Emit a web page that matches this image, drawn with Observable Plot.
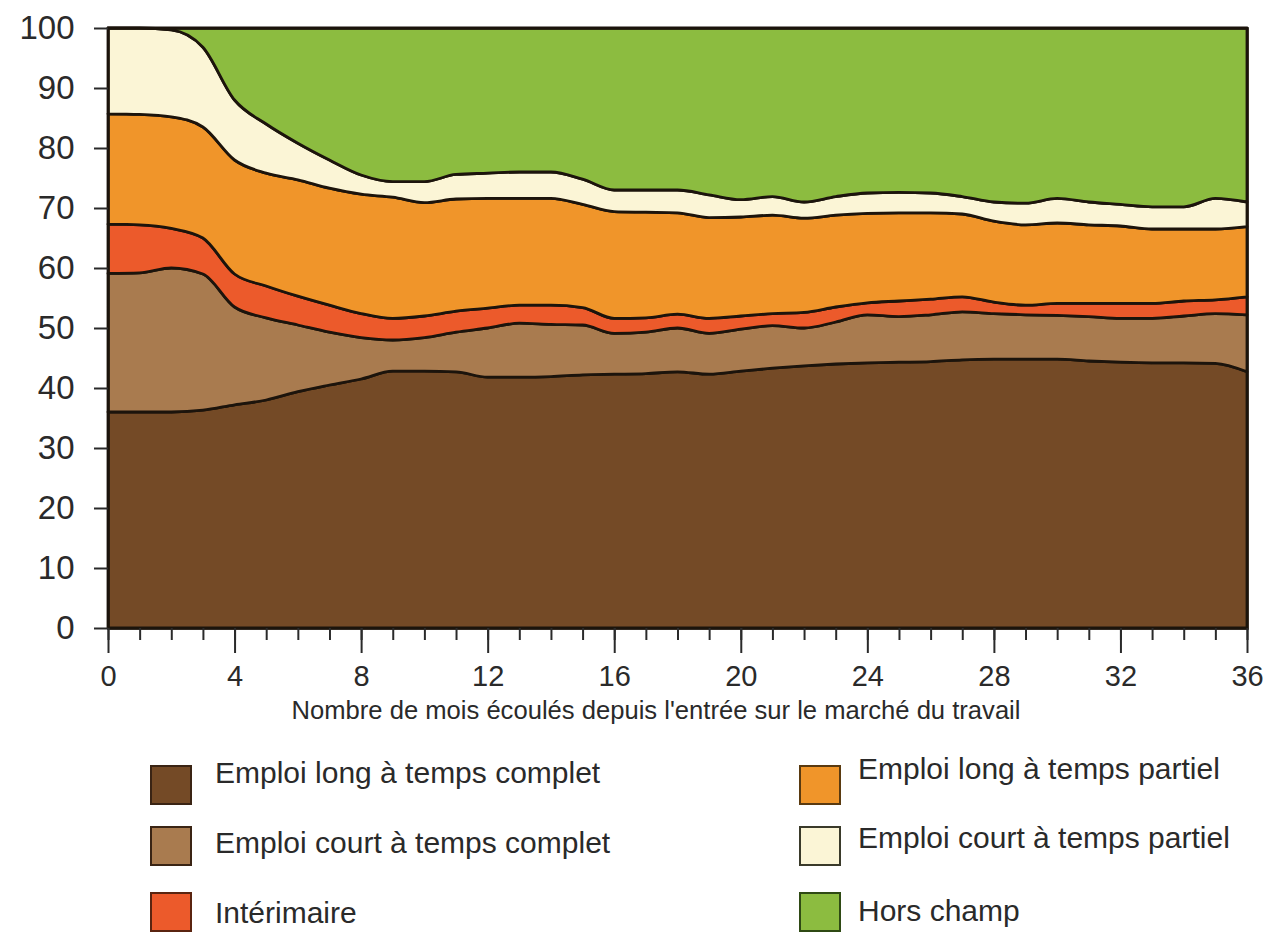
<!DOCTYPE html>
<html>
<head>
<meta charset="utf-8">
<script src="https://cdn.jsdelivr.net/npm/d3@7"></script>
<script src="https://cdn.jsdelivr.net/npm/@observablehq/plot@0.6"></script>
<style>
  html, body { margin: 0; padding: 0; background: #fff; }
  #wrap { position: relative; width: 1266px; height: 936px; font-family: "Liberation Sans", Arial, sans-serif; color: #2a2a2a; overflow: hidden; }
  #chart { position: absolute; left: 0; top: 0; }
  .sw { position: absolute; width: 42px; height: 40px; box-sizing: border-box; border: 2px solid #3a2a1a; }
  .lt { position: absolute; font-size: 30px; white-space: nowrap; line-height: 1; }
</style>
</head>
<body>
<div id="wrap">
  <div id="chart"></div>
  <div id="legend"></div>
</div>
<script>
// ---- data ----
const months = [0,1,2,3,4,5,6,7,8,9,10,11,12,13,14,15,16,17,18,19,20,21,22,23,24,25,26,27,28,29,30,31,32,33,34,35,36];
const series = ["Emploi long à temps complet","Emploi court à temps complet","Intérimaire","Emploi long à temps partiel","Emploi court à temps partiel","Hors champ"];
const colors = ["#744a26","#a97b4f","#ec5a2b","#f0952a","#fbf5d6","#8cbc40"];

const longComplet   = [36,36,36,36.3,37.2,38,39.4,40.5,41.5,42.8,42.8,42.7,41.8,41.8,41.9,42.2,42.3,42.4,42.7,42.3,42.8,43.3,43.7,44,44.2,44.3,44.4,44.7,44.8,44.8,44.8,44.5,44.3,44.2,44.2,44.1,42.7];
const courtComplet  = [23.1,23.2,24,22.7,16.3,13.7,11.1,8.8,6.9,5.2,5.6,6.6,8.2,9,8.7,8.3,6.8,6.9,7.3,6.8,7,7.1,6.3,7,8,7.6,7.8,8,7.6,7.4,7.3,7.4,7.3,7.4,7.8,8.3,9.5];
const interim       = [8.2,8,6.6,6,5.5,5.3,4.8,4.5,4,3.6,3.6,3.5,3.3,3,3.2,2.9,2.5,2.4,2.3,2.5,2.2,2,2.6,2.5,2,2.6,2.6,2.5,1.9,1.6,2,2.2,2.5,2.5,2.5,2.3,3];
const longPartiel   = [18.4,18.4,18.6,18.5,19,18.8,19.4,19.5,19.9,20.2,18.9,18.7,18.3,17.8,17.8,17.2,17.8,17.6,16.9,16.8,16.5,16.4,15.7,15.3,14.9,14.7,14.4,13.8,13.5,13.4,13.4,13.1,12.9,12.4,12,11.8,11.7];
const courtPartiel  = [14.3,14.4,14.5,13.3,10,8.2,6.1,4.7,3.2,2.6,3.5,4.1,4.2,4.4,4.4,4.2,3.6,3.7,3.8,3.8,2.9,3.1,2.7,3.1,3.4,3.4,3.3,2.9,3.2,3.6,4.1,3.8,3.6,3.7,3.7,5.1,4.1];
const horsChamp     = [0,0,0.3,3.2,12,16,19.2,22,24.5,25.6,25.6,24.4,24.2,24,24,25.2,27,27,27,27.8,28.6,28.1,29,28.1,27.5,27.4,27.5,28.1,29,29.2,28.4,29,29.4,29.8,29.8,28.4,29];

const yTicks = [0,10,20,30,40,50,60,70,80,90,100];
const xMajorTicks = [0,4,8,12,16,20,24,28,32,36];
const xMinorTicks = months;
const xLabel = "Nombre de mois écoulés depuis l'entrée sur le marché du travail";

// ---- build table ----
const valueArrays = [longComplet, courtComplet, interim, longPartiel, courtPartiel, horsChamp];
const rows = [];
series.forEach((s, i) => {
  months.forEach((m, j) => rows.push({month: m, series: s, value: valueArrays[i][j]}));
});

const chart = Plot.plot({
  width: 1266,
  height: 740,
  marginTop: 28,
  marginLeft: 108,
  marginRight: 19,
  marginBottom: 112,
  style: {fontFamily: '"Liberation Sans", Arial, sans-serif', color: "#2a2a2a", background: "transparent"},
  x: {domain: [0, 36]},
  y: {domain: [0, 100]},
  color: {domain: series, range: colors},
  marks: [
    Plot.areaY(rows, {x: "month", y: "value", z: "series", fill: "series", order: series,
      stroke: "#1c140c", strokeWidth: 2.8, strokeLinejoin: "round", curve: "monotone-x"}),
    Plot.frame({stroke: "#1c140c", strokeWidth: 2.6}),
    Plot.axisY({ticks: yTicks, tickSize: 14, tickPadding: 20, fontSize: 33, label: null, strokeWidth: 2}),
    Plot.axisX({ticks: xMinorTicks, tickSize: 12, tickFormat: () => "", label: null, strokeWidth: 2}),
    Plot.axisX({ticks: xMajorTicks, tickSize: 25, tickPadding: 12, fontSize: 29, label: null, strokeWidth: 2}),
    Plot.text([xLabel], {frameAnchor: "bottom", dy: 90, dx: -22, fontSize: 25.6, fill: "#2a2a2a"})
  ]
});
document.getElementById("chart").appendChild(chart);

// ---- legend (HTML, below the svg area) ----
const legendPos = [
  {sx: 150, sy: 765, tx: 215, ty: 758},
  {sx: 150, sy: 826, tx: 215, ty: 828},
  {sx: 150, sy: 892, tx: 215, ty: 898},
  {sx: 799, sy: 765, tx: 858, ty: 754},
  {sx: 799, sy: 826, tx: 858, ty: 823},
  {sx: 799, sy: 892, tx: 858, ty: 896}
];
const borders = ["#3a2414","#3a2414","#5a2410","#5a3a10","#3a3a2a","#2f4a14"];
const legend = document.getElementById("legend");
series.forEach((s, i) => {
  const p = legendPos[i];
  const sw = document.createElement("div");
  sw.className = "sw";
  sw.style.left = p.sx + "px"; sw.style.top = p.sy + "px";
  sw.style.background = colors[i];
  sw.style.borderColor = borders[i];
  legend.appendChild(sw);
  const t = document.createElement("div");
  t.className = "lt";
  t.style.left = p.tx + "px"; t.style.top = p.ty + "px";
  t.textContent = s;
  legend.appendChild(t);
});
</script>
</body>
</html>
